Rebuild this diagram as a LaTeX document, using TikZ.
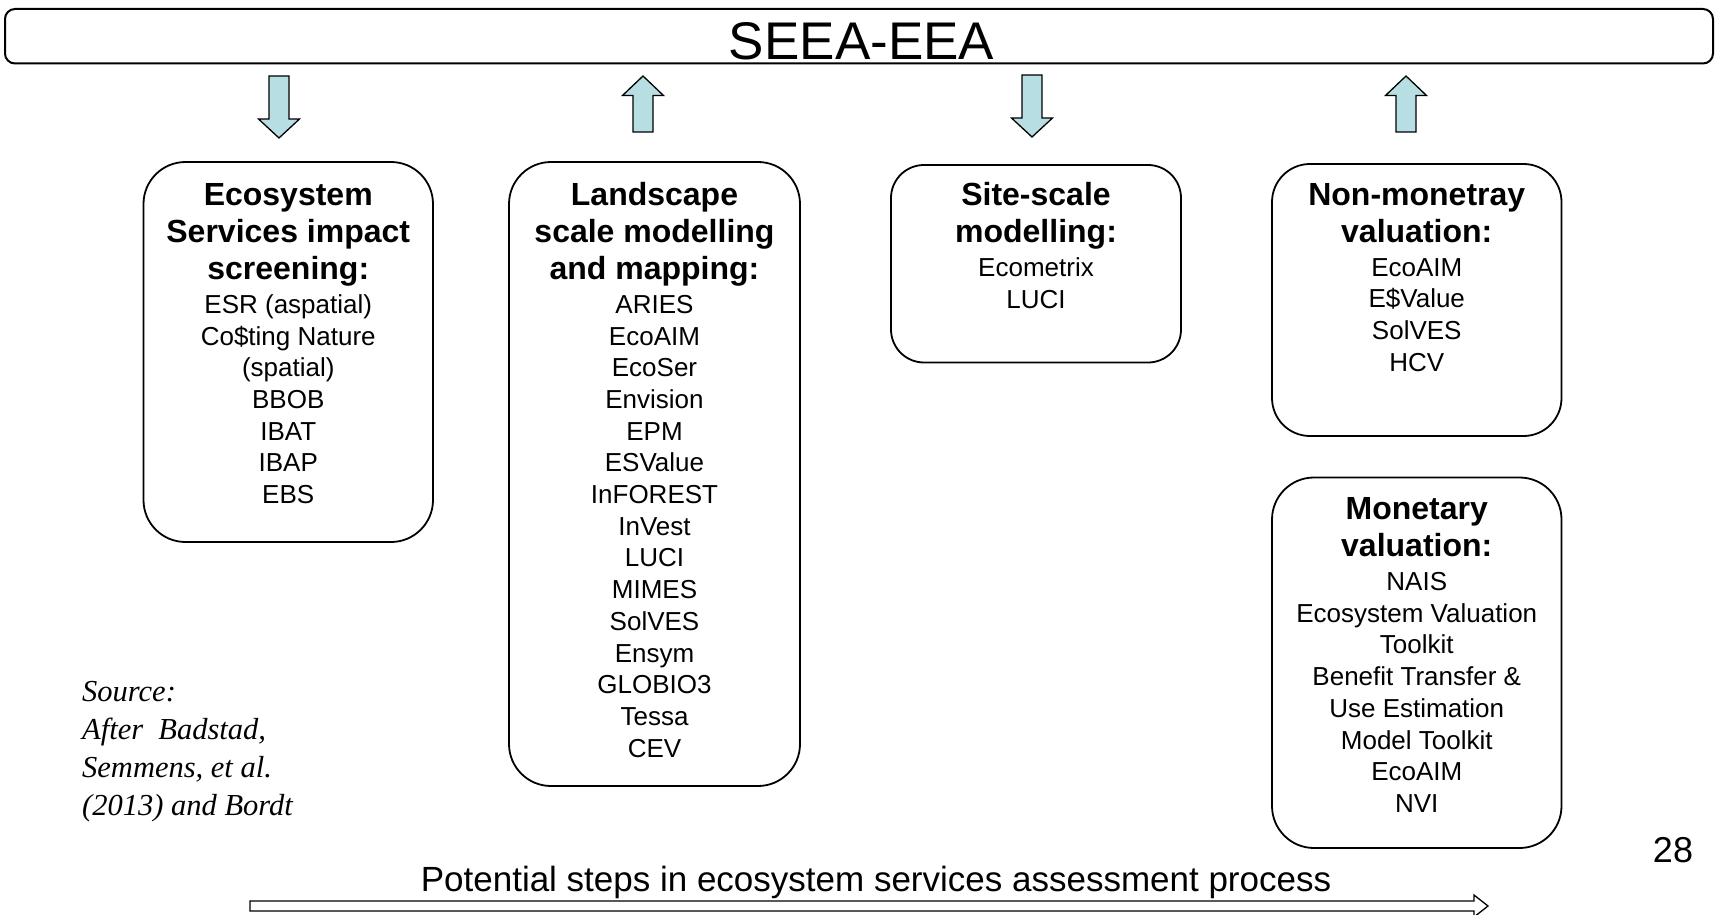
\documentclass[tikz,border=0pt]{standalone}
\usepackage{fontspec}
\setmainfont{Liberation Sans}
\newfontfamily\srcfont{Liberation Serif}
\definecolor{arrowblue}{RGB}{183,222,227}

\tikzset{
  stagebox/.style={draw, line width=1.8pt, rounded corners=#1, inner sep=0pt},
  stagebox/.default=42pt,
  headline/.style={font=\bfseries\fontsize{32}{38}\selectfont, anchor=base, inner sep=0pt},
  toolline/.style={font=\fontsize{26}{32}\selectfont, anchor=base, inner sep=0pt},
  srcline/.style={font=\srcfont\itshape\fontsize{30.5}{36}\selectfont, anchor=base west, inner sep=0pt},
  blockarrow/.style={draw, line width=1.3pt, fill=arrowblue, line join=miter},
  % block arrow pointing down, origin at the top of the shaft
  downarr/.pic={\path[blockarrow] (-10,0) -- (-10,43) -- (-20.5,43) -- (0,62)
                 -- (20.5,43) -- (10,43) -- (10,0) -- cycle;},
  % block arrow pointing up, origin at the tip
  uparr/.pic={\path[blockarrow] (0,0) -- (20.5,19.5) -- (10,19.5) -- (10,56)
                 -- (-10,56) -- (-10,19.5) -- (-20.5,19.5) -- cycle;},
}

\begin{document}
\begin{tikzpicture}[x=1pt, y=-1pt]
\useasboundingbox (0,0) rectangle (1717,915);

% framework banner
\node[draw, line width=2pt, rounded corners=10pt, inner sep=0pt,
      minimum width=1708pt, minimum height=54.5pt] (seea) at (859,36.25) {};
\node[font=\fontsize{53}{60}\selectfont, anchor=base, inner sep=0pt] (seeatitle)
      at (861.5,59.5) {SEEA-EEA};

% flows between the banner and the stages
\pic at (279,76) {downarr};
\pic at (643,76) {uparr};
\pic at (1032,75) {downarr};
\pic at (1406,76) {uparr};

% stage 1
\node[stagebox, minimum width=289.5pt, minimum height=380pt] (screen) at (288.25,352) {};
\foreach \t [count=\i from 0] in {Ecosystem, Services impact, screening:}
  \node[headline] (screen-h\i) at (288.25,205+37*\i) {\t};
\foreach \t [count=\i from 0] in {{ESR (aspatial)}, {Co\$ting Nature}, {(spatial)}, BBOB, IBAT, IBAP, EBS}
  \node[toolline] (screen-t\i) at (288.25,313.3+31.7*\i) {\t};

% stage 2
\node[stagebox, minimum width=291pt, minimum height=624pt] (landscape) at (654.5,474) {};
\foreach \t [count=\i from 0] in {Landscape, scale modelling, and mapping:}
  \node[headline] (landscape-h\i) at (654.5,205+37*\i) {\t};
\foreach \t [count=\i from 0] in {ARIES, EcoAIM, EcoSer, Envision, EPM, ESValue, InFOREST,
    InVest, LUCI, MIMES, SolVES, Ensym, GLOBIO3, Tessa, CEV}
  \node[toolline] (landscape-t\i) at (654.5,313.3+31.7*\i) {\t};

% stage 3
\node[stagebox=33pt, minimum width=290pt, minimum height=197.5pt] (site) at (1036,263.75) {};
\foreach \t [count=\i from 0] in {Site-scale, modelling:}
  \node[headline] (site-h\i) at (1036,205+37*\i) {\t};
\foreach \t [count=\i from 0] in {Ecometrix, LUCI}
  \node[toolline] (site-t\i) at (1036,276.7+31.7*\i) {\t};

% stage 4
\node[stagebox=38pt, minimum width=289.5pt, minimum height=272pt] (nonmon) at (1416.75,300) {};
\foreach \t [count=\i from 0] in {Non-monetray, valuation:}
  \node[headline] (nonmon-h\i) at (1416.75,205+37*\i) {\t};
\foreach \t [count=\i from 0] in {EcoAIM, E\$Value, SolVES, HCV}
  \node[toolline] (nonmon-t\i) at (1416.75,276+31.7*\i) {\t};

% stage 5
\node[stagebox, minimum width=289.5pt, minimum height=370.5pt] (mon) at (1416.75,662.75) {};
\foreach \t [count=\i from 0] in {Monetary, valuation:}
  \node[headline] (mon-h\i) at (1416.75,519+37*\i) {\t};
\foreach \t [count=\i from 0] in {NAIS, Ecosystem Valuation, Toolkit, {Benefit Transfer \&},
    Use Estimation, Model Toolkit, EcoAIM, NVI}
  \node[toolline] (mon-t\i) at (1416.75,590.5+31.7*\i) {\t};

% source note
\foreach \t [count=\i from 0] in {Source:, {After\ \ Badstad,}, {Semmens, et al.}, {(2013) and Bordt}}
  \node[srcline] (src\i) at (82,701+38*\i) {\t};

% process direction
\node[font=\fontsize{35}{42}\selectfont, anchor=base, inner sep=0pt] (process)
      at (876,891) {Potential steps in ecosystem services assessment process};
\coordinate (procstart) at (250,906);
\coordinate (procend) at (1488,906);
\draw[line width=1.3pt, line join=miter, fill=white]
  (procstart) ++(0,-5) -- (1474,901) -- (1474,895) -- (procend)
  -- (1474,917) -- (1474,911) -- (250,911) -- cycle;

% page number
\node[font=\fontsize{36}{42}\selectfont, anchor=base, inner sep=0pt] (pageno)
      at (1673,862) {28};
\end{tikzpicture}
\end{document}
